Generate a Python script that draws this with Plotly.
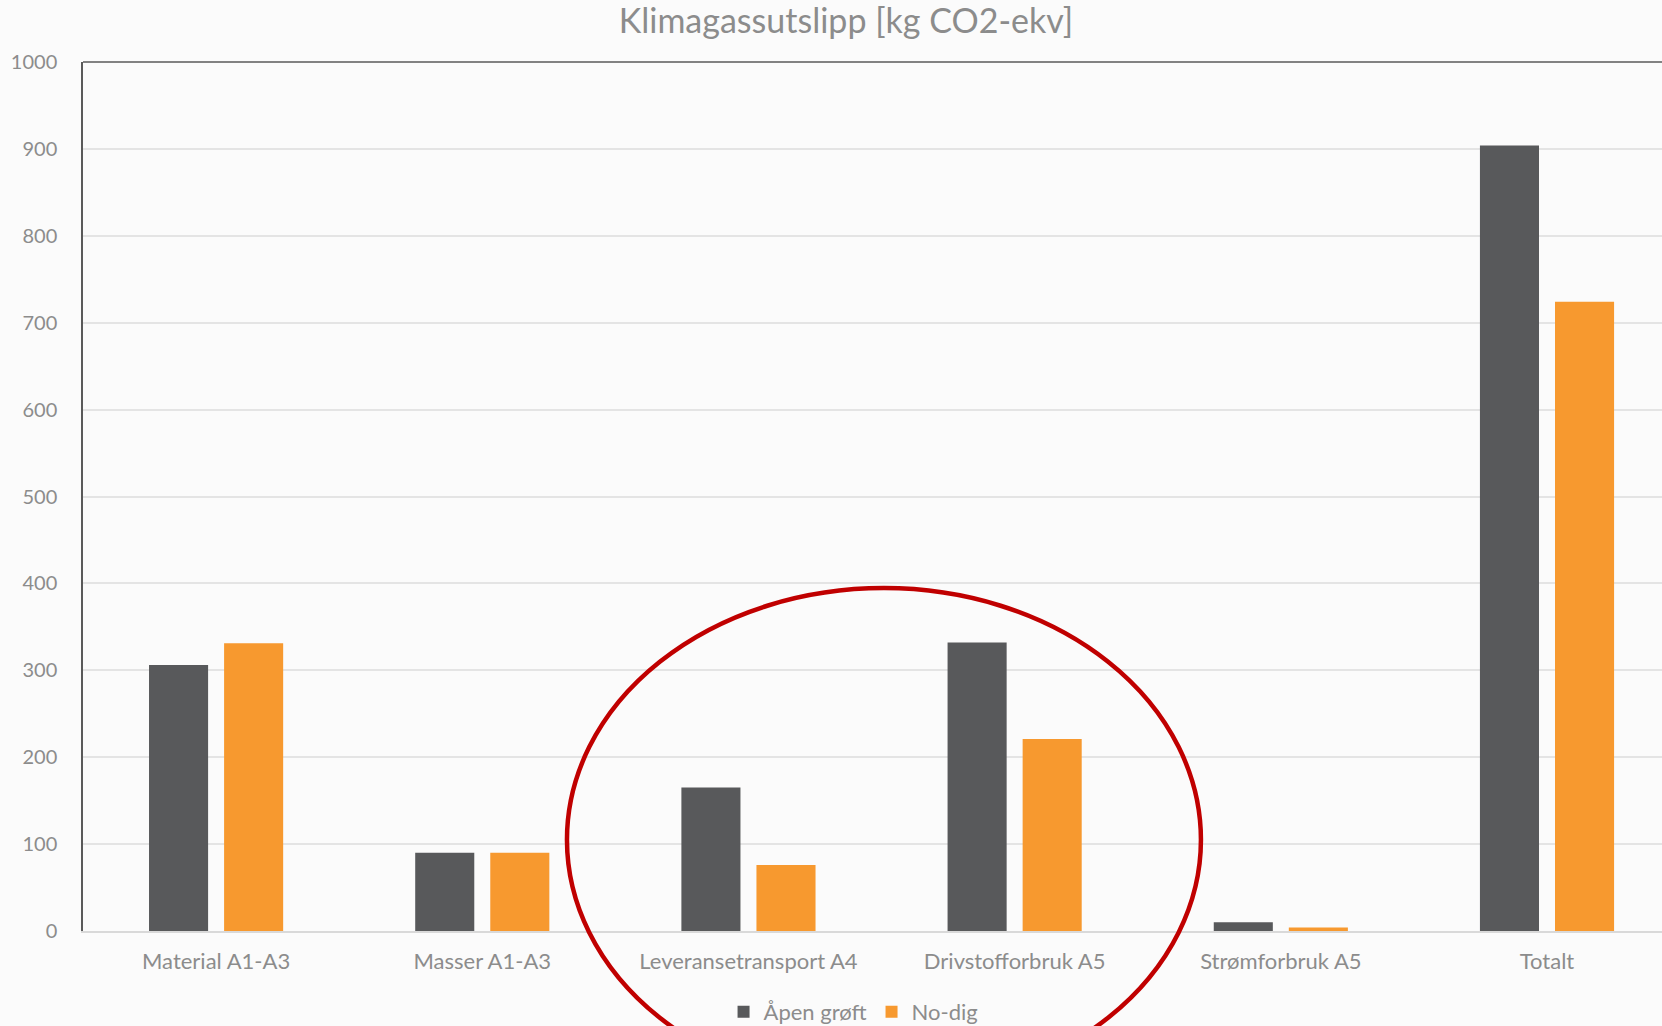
import plotly.graph_objects as go

# Emission categories and values (kg CO2-ekv)
categories = ["Material A1-A3", "Masser A1-A3", "Leveransetransport A4",
              "Drivstofforbruk A5", "Strømforbruk A5", "Totalt"]
apen_groft = [306, 90, 165, 332, 10, 904]
no_dig = [331, 90, 76, 221, 4, 724]
y_ticks = [0, 100, 200, 300, 400, 500, 600, 700, 800, 900, 1000]

DARK = "#58595b"
ORANGE = "#f7992f"
TEXT = "#8c8c8c"
FONT = "Lato, Carlito, Calibri, sans-serif"

fig = go.Figure()
fig.add_trace(go.Bar(name="Åpen grøft", x=categories, y=apen_groft,
                     marker=dict(color=DARK, line=dict(width=0))))
fig.add_trace(go.Bar(name="No-dig", x=categories, y=no_dig,
                     marker=dict(color=ORANGE, line=dict(width=0))))

fig.update_layout(
    width=1662, height=1026,
    margin=dict(l=83, r=0, t=62, b=95, autoexpand=False),
    paper_bgcolor="#fbfbfb", plot_bgcolor="#fbfbfb",
    barmode="group", bargap=0.436, bargroupgap=0.213,
    font=dict(family=FONT, size=20, color=TEXT),
    title=dict(text="Klimagassutslipp [kg CO2-ekv]", x=0.509, xanchor="center",
               y=0.9795, yanchor="middle", font=dict(size=34, color=TEXT)),
    showlegend=True,
    legend=dict(orientation="h", x=0.488, xanchor="center", y=-0.069, yanchor="top",
                font=dict(size=22, color=TEXT), itemwidth=30, traceorder="normal",
                bgcolor="rgba(0,0,0,0)"),
)

fig.update_xaxes(range=[-0.5, 5.432], showgrid=False, showline=True,
                 linecolor="#d9d9d9", linewidth=2, ticks="", ticklabelstandoff=10,
                 tickfont=dict(size=22, color=TEXT))
fig.update_yaxes(range=[0, 1000], tickvals=y_ticks, showgrid=True, gridcolor="#e4e4e4",
                 gridwidth=1.5, zeroline=False, showline=True, linecolor="#5a5a5a",
                 linewidth=1.5, ticks="", ticklabelstandoff=20,
                 tickfont=dict(size=20, color=TEXT))

# Frame line along the top of the plot area
fig.add_shape(type="line", xref="paper", yref="paper", x0=0, x1=1, y0=1, y1=1,
              line=dict(color="#5a5a5a", width=1.5))

# Red ellipse highlighting the transport and fuel categories
fig.add_shape(type="circle", xref="paper", yref="paper",
              x0=0.3065, x1=0.708, y0=-0.1846, y1=0.3946,
              line=dict(color="#c00000", width=4.5), layer="above")

fig.write_html("out.html")
